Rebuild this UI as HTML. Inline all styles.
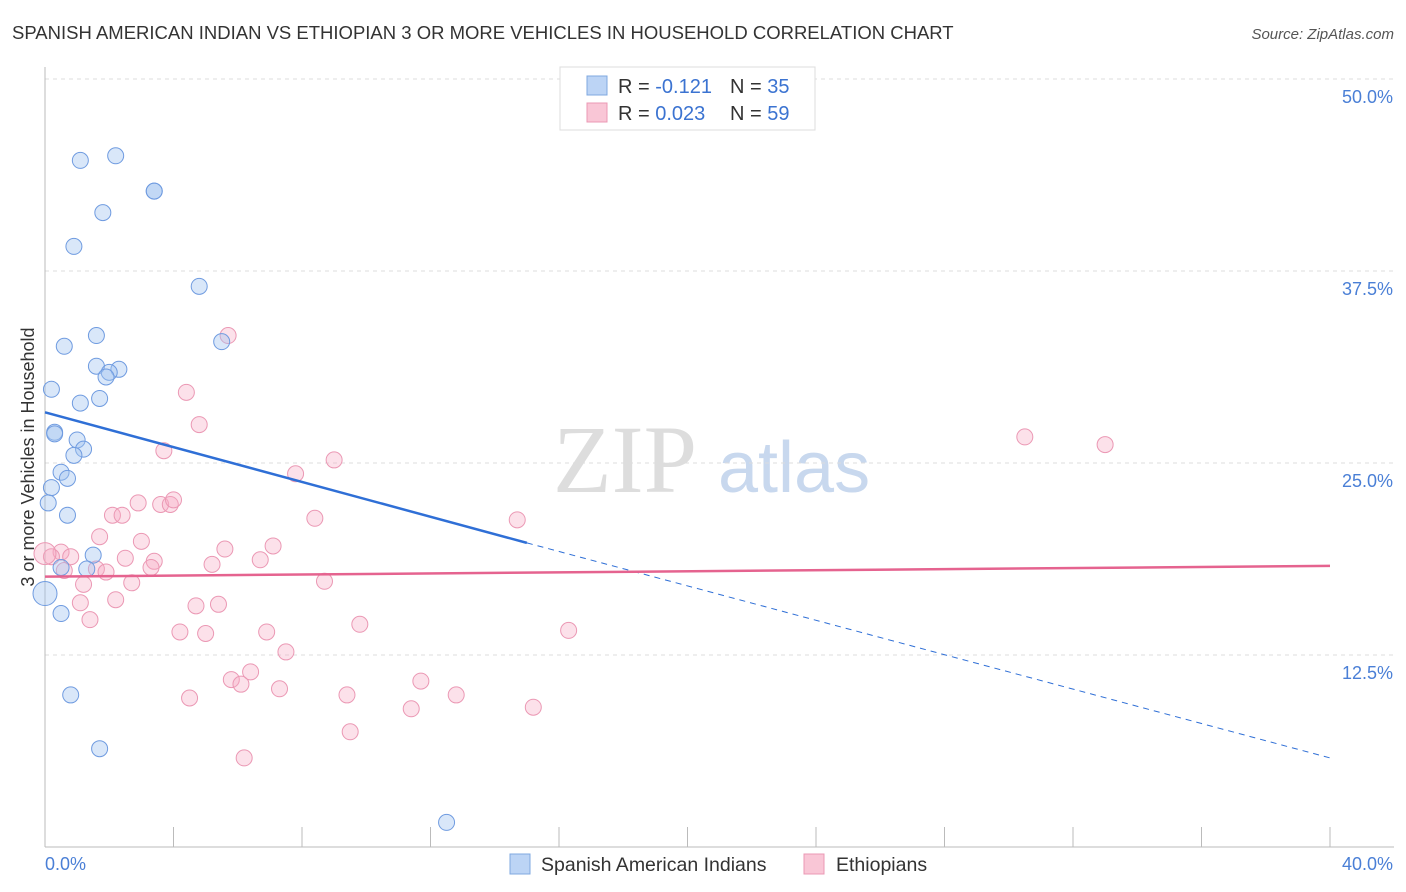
<!DOCTYPE html>
<html><head><meta charset="utf-8"><style>
body{margin:0;background:#fff;font-family:"Liberation Sans",sans-serif;}
svg{display:block}
</style></head><body>
<svg id="chart" width="1406" height="892">
<text x="12" y="39" font-size="18.5" fill="#333">SPANISH AMERICAN INDIAN VS ETHIOPIAN 3 OR MORE VEHICLES IN HOUSEHOLD CORRELATION CHART</text>
<text x="1394" y="39" font-size="15" fill="#555" font-style="italic" text-anchor="end">Source: ZipAtlas.com</text>
<text transform="translate(34,457) rotate(-90)" font-size="18" fill="#333" text-anchor="middle">3 or more Vehicles in Household</text>
<g><text x="553" y="492" font-size="96" font-family="Liberation Serif,serif" fill="#ddd">ZIP</text><text x="718" y="492" font-size="72" fill="#c8d8ee">atlas</text></g>
<g id="grid"></g><g id="axes"></g><g id="marks"></g>
<g>
<rect x="560" y="67" width="255" height="63" fill="#fff" stroke="#ddd"/>
<rect x="587" y="76" width="20" height="19" fill="#bcd4f5" stroke="#7fa8e0"/>
<rect x="587" y="103" width="20" height="19" fill="#f9c6d6" stroke="#eb98b4"/>
<text x="618" y="93" font-size="20" fill="#333">R = <tspan fill="#3b73d1">-0.121</tspan></text>
<text x="730" y="93" font-size="20" fill="#333">N = <tspan fill="#3b73d1">35</tspan></text>
<text x="618" y="120" font-size="20" fill="#333">R = <tspan fill="#3b73d1">0.023</tspan></text>
<text x="730" y="120" font-size="20" fill="#333">N = <tspan fill="#3b73d1">59</tspan></text>
</g>
<g>
<rect x="510" y="854" width="20" height="20" fill="#bcd4f5" stroke="#7fa8e0"/>
<text x="541" y="871" font-size="19.5" fill="#333">Spanish American Indians</text>
<rect x="804" y="854" width="20" height="20" fill="#f9c6d6" stroke="#eb98b4"/>
<text x="836" y="871" font-size="19.5" fill="#333">Ethiopians</text>
</g>
</svg>
<script>
const yTicks=[12.5,25,37.5,50];
const yTickLabels=["12.5%","25.0%","37.5%","50.0%"];
const blueX=[1.1,2.2,3.4,3.4,1.8,0.9,4.8,1.6,0.6,5.5,1.6,2.3,2.0,1.9,0.2,1.7,1.1,0.3,0.3,1.0,1.2,0.9,0.5,0.7,0.2,0.1,0.7,1.5,1.3,0.5,0.0,0.5,0.8,1.7,12.5];
const blueY=[44.7,45.0,42.7,42.7,41.3,39.1,36.5,33.3,32.6,32.9,31.3,31.1,30.9,30.6,29.8,29.2,28.9,27.0,26.9,26.5,25.9,25.5,24.4,24.0,23.4,22.4,21.6,19.0,18.1,18.2,16.5,15.2,9.9,6.4,1.6];
const pinkX=[4.4,5.7,4.8,3.7,7.8,9.0,30.5,33.0,2.9,3.6,3.9,4.0,2.1,2.4,8.4,14.7,1.7,3.0,5.6,7.1,2.5,3.4,6.7,0.5,0.2,0.8,0.0,1.6,1.9,3.3,5.2,0.6,1.2,2.7,8.7,2.2,1.1,4.7,5.4,1.4,9.8,16.3,4.2,5.0,6.9,7.5,5.8,6.4,6.1,7.3,11.7,4.5,9.4,12.8,11.4,15.2,9.5,6.2];
const pinkY=[29.6,33.3,27.5,25.8,24.3,25.2,26.7,26.2,22.4,22.3,22.3,22.6,21.6,21.6,21.4,21.3,20.2,19.9,19.4,19.6,18.8,18.6,18.7,19.2,18.9,18.9,19.1,18.1,17.9,18.2,18.4,18.0,17.1,17.2,17.3,16.1,15.9,15.7,15.8,14.8,14.5,14.1,14.0,13.9,14.0,12.7,10.9,11.4,10.6,10.3,10.8,9.7,9.9,9.9,9.0,9.1,7.5,5.8];
const blueLine=[28.3,19.8];const blueLineEndX=15.0;const blueDashEnd=5.8;
const pinkLine=[17.6,18.3];
const X=v=>45+v*32.125, Y=v=>847-v*15.36;
const NS="http://www.w3.org/2000/svg";
function mk(t,a,p){const e=document.createElementNS(NS,t);for(const k in a)e.setAttribute(k,a[k]);document.getElementById(p).appendChild(e);return e;}
mk('line',{x1:45,y1:67,x2:45,y2:847,stroke:'#bbb'},'axes');
mk('line',{x1:45,y1:847,x2:1394,y2:847,stroke:'#bbb'},'axes');
for(let i=0;i<=10;i++){const l=mk('line',{x1:X(i*4),x2:X(i*4),y1:827,y2:847,stroke:'#bbb'},'axes');

}
yTicks.forEach((t,i)=>{const g=mk('line',{x1:45,x2:1394,y1:Y(t),y2:Y(t),stroke:'#ddd','stroke-dasharray':'4,4'},'grid');


const tx=mk('text',{x:1393,y:Y(t)+24,'font-size':18,fill:'#4a7fd6','text-anchor':'end'},'axes');tx.textContent=yTickLabels[i];

});
const x0=mk('text',{x:45,y:870,'font-size':18,fill:'#4a7fd6'},'axes');x0.textContent='0.0%';


const x1=mk('text',{x:1393,y:870,'font-size':18,fill:'#4a7fd6','text-anchor':'end'},'axes');x1.textContent='40.0%';


pinkX.forEach((v,i)=>{const c=mk('circle',{cx:X(v),cy:Y(pinkY[i]),r:v===0?11:8,fill:'rgba(246,170,196,0.35)',stroke:'#eb98b4','stroke-width':1},'marks');

});
blueX.forEach((v,i)=>{const c=mk('circle',{cx:X(v),cy:Y(blueY[i]),r:v===0?12:8,fill:'rgba(160,195,240,0.4)',stroke:'#6f9be0','stroke-width':1},'marks');

});
let l1=mk('line',{x1:X(0),y1:Y(blueLine[0]),x2:X(blueLineEndX),y2:Y(blueLine[1]),stroke:'#2f6fd6','stroke-width':2.5},'marks');


let l2=mk('line',{x1:X(blueLineEndX),y1:Y(blueLine[1]),x2:X(40),y2:Y(blueDashEnd),stroke:'#2f6fd6','stroke-width':1,'stroke-dasharray':'6,5'},'marks');


let l3=mk('line',{x1:X(0),y1:Y(pinkLine[0]),x2:X(40),y2:Y(pinkLine[1]),stroke:'#e5638f','stroke-width':2.5},'marks');


</script>
</body></html>
